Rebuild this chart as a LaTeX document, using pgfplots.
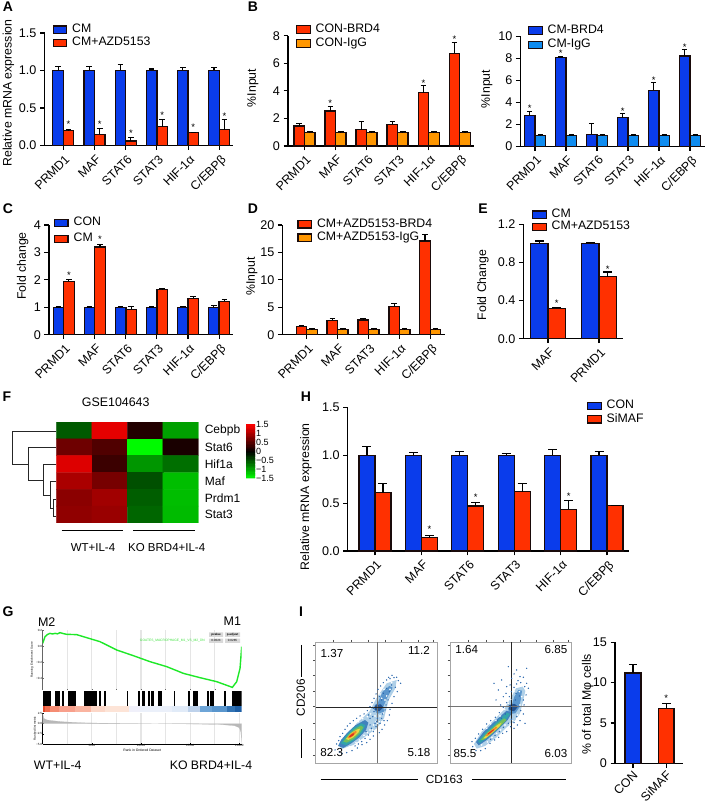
\documentclass[border=0pt]{standalone}
\usepackage{fontspec}
\setmainfont{Liberation Sans}
\usepackage{pgfplots}
\pgfplotsset{compat=1.18}
\definecolor{cblue}{RGB}{10,60,235}
\definecolor{cred}{RGB}{255,48,0}
\definecolor{corange}{RGB}{255,150,0}
\definecolor{clight}{RGB}{15,140,240}
\definecolor{edge}{RGB}{25,10,10}
\newcommand\fs[1]{\fontsize{#1pt}{#1pt}\selectfont}
\pgfplotsset{
 /pgf/number format/assume math mode=true,
 geom/.style n args={4}{scale only axis, anchor=south west, at={({#1*1pt},{(804-#2)*1pt})}, width=#3pt, height=#4pt},
 pan/.style={axis x line*=bottom, axis y line*=left, axis line style={line width=1.1pt},
   tick style={line width=1.1pt,black}, major tick length=4.5pt, tick align=outside,
   ticklabel style={font=\fs{12.6}}, clip=false, ymin=0,
   x tick label style={xshift=1pt,yshift=-2.5pt,rotate=45, anchor=north east, inner sep=1pt, font=\fs{12.3}},
   xtick={0,1,2,3,4,5}, xticklabels={PRMD1,MAF,STAT6,STAT3,HIF-1α,C/EBPβ}},
 yl/.style 2 args={every axis y label/.style={at={(axis description cs:0,.5)},xshift=#1pt,yshift=#2pt,rotate=90,anchor=center,font=\fs{12.3}}},
 lg/.style n args={3}{legend style={at={(0,1)},anchor=north west,xshift=#1pt,yshift=#2pt,draw=none,fill=none,inner sep=0pt,outer sep=0pt,row sep={#3pt},cells={anchor=west},
    nodes={inner sep=0pt,font=\fs{12.3},text height=9pt,text depth=3pt},/tikz/column 1/.style={column sep=5pt}}},
 bar/.style n args={3}{ybar, fill=#1, draw=edge, line width=1.35pt, bar width=#2, bar shift=#3,
    legend image code/.code={\draw[##1,line width=1.2pt] (0pt,-3.7pt) rectangle (13.5pt,3.7pt);},
    error bars/y dir=plus, error bars/y explicit, error bars/error bar style={line width=1.1pt,black,xshift=#3},
    error bars/error mark options={rotate=90,mark size=2.8pt,line width=1.1pt,black}},
 cap/.style={error bars/error mark options={rotate=90,mark size=#1,line width=1.1pt,black}},
 stars/.style={only marks, mark=none, forget plot, nodes near coords={*}, nodes near coords style={anchor=center,inner sep=0pt,font=\fs{9.5},xshift=#1,yshift=-.8pt}},
}
\newcommand\band[3]{\addplot[fill={rgb,255:#3},draw=none] coordinates {(#1,0)(#2,0)(#2,1)(#1,1)} -- cycle;}
\begin{document}
\begin{tikzpicture}
\path[use as bounding box] (0,0) rectangle (708pt,804pt);

% A
\begin{axis}[geom={44.5}{145.5}{188.5}{112.5},pan,xmin=-.603,xmax=5.44,ymax=1.5,ytick={0,.5,1,1.5},yticklabels={0.0,0.5,1.0,1.5},
  ylabel={Relative mRNA expression},yl={-36}{-3.75},lg={8}{9.3}{1.3}]
\addplot[bar={cblue}{10.5pt}{-5.25pt}] coordinates {(0,1)+-(0,.05)(1,1)+-(0,.05)(2,1)+-(0,.085)(3,1)+-(0,.02)(4,1)+-(0,.035)(5,1)+-(0,.035)};
\addlegendentry{CM}
\addplot[bar={cred}{10.5pt}{5.25pt}] coordinates {(0,.2)+-(0,.01)(1,.15)+-(0,.08)(2,.06)+-(0,.05)(3,.25)+-(0,.1)(4,.17)+-(0,.005)(5,.21)+-(0,.14)};
\addlegendentry{CM+AZD5153}
\addplot[stars=5.25pt] coordinates {(0,.30)(1,.30)(2,.17)(3,.41)(4,.26)(5,.40)};
\end{axis}

% B left
\begin{axis}[geom={288}{146}{186}{110.3},pan,xmin=-.532,xmax=5.46,ymax=8,ytick={0,2,4,6,8},
  ylabel={\%Input},yl={-35}{2.85},lg={8}{12.2}{2}]
\addplot[bar={cred}{10.5pt}{-5.25pt}] coordinates {(0,1.45)+-(0,.2)(1,2.55)+-(0,.3)(2,1.18)+-(0,.58)(3,1.57)+-(0,.19)(4,3.86)+-(0,.56)(5,6.72)+-(0,.78)};
\addlegendentry{CON-BRD4}
\addplot[bar={corange}{10.5pt}{5.25pt}] coordinates {(0,1)+-(0,.05)(1,1)+-(0,.05)(2,1)+-(0,.05)(3,1)+-(0,.03)(4,1)+-(0,.03)(5,1)+-(0,.03)};
\addlegendentry{CON-IgG}
\addplot[stars=-5.25pt] coordinates {(1,3.16)(4,4.6)(5,7.78)};
\end{axis}

% B right
\begin{axis}[geom={520.3}{146.3}{184.7}{110},pan,xmin=-.474,xmax=5.484,ymax=10,ytick={0,2,4,6,8,10},
  ylabel={\%Input},yl={-33.3}{2.3},lg={7.7}{11.8}{2.4}]
\addplot[bar={cblue}{10.7pt}{-5.35pt}] coordinates {(0,2.8)+-(0,.35)(1,8.05)+-(0,.07)(2,1.1)+-(0,.96)(3,2.6)+-(0,.4)(4,5.1)+-(0,.69)(5,8.2)+-(0,.56)};
\addlegendentry{CM-BRD4}
\addplot[bar={clight}{10.7pt}{5.35pt}] coordinates {(0,1)+-(0,.05)(1,1)+-(0,.03)(2,1)+-(0,.05)(3,1)+-(0,.03)(4,1)+-(0,.03)(5,1)+-(0,.03)};
\addlegendentry{CM-IgG}
\addplot[stars=-5.35pt] coordinates {(0,3.55)(1,8.5)(3,3.25)(4,6.1)(5,9.1)};
\end{axis}

% C
\begin{axis}[geom={49}{334.7}{184.3}{109.7},pan,xmin=-.473,xmax=5.458,ymax=4,ytick={0,1,2,3,4},
  ylabel={Fold change},yl={-26.3}{13.85},lg={5}{8}{4}]
\addplot[bar={cblue}{10.5pt}{-5.25pt}] coordinates {(0,1)+-(0,.01)(1,1)+-(0,.01)(2,1)+-(0,.04)(3,1)+-(0,.01)(4,1)+-(0,.04)(5,1)+-(0,.08)};
\addlegendentry{CON}
\addplot[bar={cred}{10.5pt}{5.25pt}] coordinates {(0,1.95)+-(0,.05)(1,3.2)+-(0,.1)(2,.92)+-(0,.1)(3,1.65)+-(0,.03)(4,1.33)+-(0,.07)(5,1.22)+-(0,.05)};
\addlegendentry{CM}
\addplot[stars=5.25pt] coordinates {(0,2.2)(1,3.5)};
\end{axis}

% D
\begin{axis}[geom={282.3}{334.7}{162.7}{109.7},pan,xmin=-.79,xmax=4.476,ymax=20,ytick={0,5,10,15,20},
  xtick={0,1,2,3,4},xticklabels={PRMD1,MAF,STAT3,HIF-1α,C/EBPβ},
  ylabel={\%Input},yl={-30.3}{3.15},lg={15}{6.7}{1.4}]
\addplot[bar={cred}{10.5pt}{-5.25pt}] coordinates {(0,1.5)+-(0,.2)(1,2.6)+-(0,.3)(2,2.7)+-(0,.3)(3,5.2)+-(0,.5)(4,17.1)+-(0,1.2)};
\addlegendentry{CM+AZD5153-BRD4}
\addplot[bar={corange}{10.5pt}{5.25pt}] coordinates {(0,1)+-(0,.05)(1,1)+-(0,.05)(2,1)+-(0,.05)(3,1)+-(0,.05)(4,1)+-(0,.05)};
\addlegendentry{CM+AZD5153-IgG}
\end{axis}

% E
\begin{axis}[geom={523.3}{338.7}{99.4}{114.4},pan,xmin=-.484,xmax=1.465,ymax=1.2,ytick={0,.4,.8,1.2},yticklabels={0.0,0.4,0.8,1.2},
  xtick={0,1},xticklabels={MAF,PRMD1},
  ylabel={Fold Change},yl={-40.3}{-3.5},lg={8.7}{15.6}{.3}]
\addplot[bar={cblue}{17.3pt}{-8.65pt},cap=4.5pt] coordinates {(0,1)+-(0,.025)(1,1)+-(0,.01)};
\addlegendentry{CM}
\addplot[bar={cred}{17.3pt}{8.65pt},cap=4.5pt] coordinates {(0,.32)+-(0,.01)(1,.65)+-(0,.05)};
\addlegendentry{CM+AZD5153}
\addplot[stars=8.65pt] coordinates {(0,.38)(1,.735)};
\end{axis}

% H
\begin{axis}[geom={347.7}{551}{281.3}{143.7},pan,xmin=-.588,xmax=5.474,ymax=1.5,ytick={0,.5,1,1.5},yticklabels={0.0,0.5,1.0,1.5},
  ylabel={Relative mRNA expression},yl={-41.7}{-17.5},lg={239.3}{7.3}{1.3}]
\addplot[bar={cblue}{16pt}{-8pt},cap=4.5pt] coordinates {(0,1)+-(0,.09)(1,1)+-(0,.03)(2,1)+-(0,.04)(3,1)+-(0,.02)(4,1)+-(0,.06)(5,1)+-(0,.04)};
\addlegendentry{CON}
\addplot[bar={cred}{16pt}{8pt},cap=4.5pt] coordinates {(0,.61)+-(0,.09)(1,.14)+-(0,.025)(2,.47)+-(0,.035)(3,.62)+-(0,.08)(4,.435)+-(0,.09)(5,.475)+-(0,.002)};
\addlegendentry{SiMAF}
\addplot[stars=8pt] coordinates {(1,.235)(2,.565)(4,.58)};
\end{axis}

% I bars
\begin{axis}[geom={615}{763.3}{67.7}{121},pan,xmin=-.54,xmax=1.492,ymax=15,ytick={0,5,10,15},
  xtick={0,1},xticklabels={CON,SiMAF},x tick label style={yshift=2.5pt},
  ylabel={\% of total Mφ cells},yl={-27.3}{-1.7}]
\addplot[bar={cblue}{15.7pt}{0pt},cap=4.2pt] coordinates {(0,11.2)+-(0,1)};
\addplot[bar={cred}{15.7pt}{0pt},cap=4.2pt] coordinates {(1,6.8)+-(0,.62)};
\addplot[stars=0pt] coordinates {(1,8.2)};
\end{axis}

% F heatmap
\begin{axis}[geom={56.3}{523}{142}{101},xmin=-.5,xmax=3.5,ymin=-.5,ymax=5.5,y dir=reverse,
  axis line style={draw=none},tick style={draw=none},xtick=\empty,ytick={0,1,2,3,4,5},
  yticklabels={Cebpb,Stat6,Hif1a,Maf,Prdm1,Stat3},yticklabel pos=right,
  y tick label style={font=\fs{12},xshift=3pt},
  colormap={gbr}{rgb255(0cm)=(0,255,0); rgb255(1cm)=(0,0,0); rgb255(2cm)=(255,0,0)},
  point meta min=-1.5,point meta max=1.5,colorbar sampled,
  colorbar style={samples=41,at={(1.334,.98)},anchor=north west,scale only axis,width=9.3pt,height=54.3pt,
    ytick={-1.5,-1,-.5,0,.5,1,1.5},yticklabels={−1.5,−1,−0.5,0,0.5,1,1.5},
    axis line style={draw=none},tick style={draw=none},y tick label style={font=\fs{9},inner sep=1pt}}]
\addplot[matrix plot*,mesh/cols=4,point meta=explicit] table[meta=z] {
x y z
0 0 -.53
1 0 1.35
2 0 .2
3 0 -.94
0 1 .65
1 1 .47
2 1 -1.47
3 1 .15
0 2 1.3
1 2 .35
2 2 -.88
3 2 -.65
0 3 1.0
1 3 .7
2 3 -.47
3 3 -1.12
0 4 .82
1 4 .95
2 4 -.55
3 4 -1.12
0 5 .85
1 5 .9
2 5 -.6
3 5 -1.1
};
\end{axis}

% G top
\begin{axis}[geom={42.7}{690}{199}{60},xmin=0,xmax=20238,ymin=-.55,ymax=.2,scaled x ticks=false,
  axis x line*=bottom,axis y line*=left,x axis line style={draw=none},y axis line style={line width=.5pt,black!60},
  xtick={2500,5000,7500,10000,12500,15000,17500},xticklabels={},xmajorgrids,major grid style={line width=1.1pt,black!10},
  major tick length=1pt,tick style={line width=.3pt,black!60},
  ytick={-.4,-.2,0,.2},yticklabels={−0.4,−0.2,0.0,0.2},y tick label style={font=\fs{3},inner sep=.5pt},
  ylabel={Running Enrichment Score},every axis y label/.style={at={(axis description cs:0,.5)},xshift=-10.5pt,rotate=90,anchor=center,font=\fs{3}}]
\addplot[line width=1.4pt,color={rgb,255:red,30;green,232;blue,40}] coordinates {(0,.033)(237,.117)(500,.145)(746,.158)(1000,.15)(1254,.158)(1500,.152)(1763,.167)(2100,.155)(2441,.146)(3458,.142)(4475,.104)(5831,.054)(7526,-.05)(9221,-.121)(10916,-.196)(12611,-.258)(14306,-.342)(16001,-.396)(17696,-.446)(19289,-.517)(19730,-.446)(20069,-.279)(20238,-.008)};
\end{axis}

% G rug
\begin{axis}[geom={42.7}{705.7}{199}{15},hide axis,xmin=52,xmax=650,ymin=0,ymax=1]
\addplot[ycomb,line width=.75pt,black,mark=none] coordinates {(53,1)(55,1)(57,1)(60,1)(62,1)(65,1)(67,1)(70,1)(72,1)(75,1)(76,1)(91,1)(93,1)(95,1)(97,1)(99,1)(101,1)(111,1)(114,1)(128,1)(130,1)(132,1)(134,1)(136,1)(138,1)(140,1)(142,1)(144,1)(146,1)(148,1)(150,1)(176,1)(178,1)(180,1)(182,1)(184,1)(186,1)(188,1)(190,1)(192,1)(194,1)(196,1)(199,1)(201,1)(203,1)(205,1)(207,1)(209,1)(211,1)(214,1)(223,1)(225,1)(237,1)(239,1)(307,1)(341,1)(343,1)(351,1)(354,1)(357,1)(371,1)(374,1)(379,1)(382,1)(385,1)(401,1)(403,1)(406,1)(409,1)(447,1)(491,1)(494,1)(506,1)(509,1)(512,1)(515,1)(518,1)(546,1)(549,1)(556,1)(559,1)(562,1)(565,1)(598,1)(601,1)(623,1)(625,1)(627,1)(629,1)(631,1)(633,1)(635,1)(637,1)(639,1)(641,1)(643,1)(645,1)(647,1)(649,1)};
\end{axis}

% G colour strip
\begin{axis}[geom={42.7}{711.7}{199}{6},hide axis,xmin=52,xmax=650,ymin=0,ymax=1]
\band{52}{60}{red,226;green,70;blue,40}
\band{60}{75}{red,240;green,110;blue,80}
\band{75}{100}{red,245;green,140;blue,115}
\band{100}{150}{red,248;green,160;blue,140}
\band{150}{198}{red,250;green,180;blue,160}
\band{198}{240}{red,252;green,215;blue,200}
\band{240}{310}{red,253;green,228;blue,215}
\band{310}{345}{red,240;green,240;blue,250}
\band{345}{440}{red,235;green,240;blue,250}
\band{440}{490}{red,225;green,235;blue,248}
\band{490}{525}{red,190;green,210;blue,235}
\band{525}{560}{red,110;green,165;blue,215}
\band{560}{605}{red,90;green,150;blue,205}
\band{605}{630}{red,50;green,115;blue,180}
\band{630}{650}{red,30;green,95;blue,165}
\end{axis}

% G bottom
\begin{axis}[geom={42.7}{744}{199}{31},xmin=0,xmax=20238,ymin=-5,ymax=2.6,scaled x ticks=false,
  axis x line*=bottom,axis y line*=left,axis line style={line width=.9pt},
  extra x ticks={2500,7500,12500,17500},extra x tick labels={},extra x tick style={major tick length=0pt,grid=major},
  xtick={5000,10000,15000,20000},xticklabels={5000,10000,15000,20000},xmajorgrids,major grid style={line width=1.1pt,black!10},
  major tick length=1.2pt,tick style={line width=.3pt,black},
  ytick={-5,-2.5,0,2.5},yticklabels={−5.0,−2.5,0.0,2.5},
  ticklabel style={font=\fs{3},inner sep=.5pt},
  xlabel={Rank in Ordered Dataset},every axis x label/.style={at={(axis description cs:.5,0)},yshift=-6.5pt,anchor=center,font=\fs{3.4}},
  ylabel={Ranked list metric},every axis y label/.style={at={(axis description cs:0,.5)},xshift=-8pt,rotate=90,anchor=center,font=\fs{3}}]
\addplot[fill=black!28,draw=black!28,line width=.2pt] coordinates {(0,2.4)(100,1.3)(400,.9)(1000,.7)(2000,.45)(4000,.2)(6000,.1)(10000,.02)(14000,-.05)(18000,-.2)(19500,-.5)(20000,-1.0)(20150,-2)(20220,-4)(20238,-5)(20238,0)(0,0)} -- cycle;
\end{axis}

% I flow left
\begin{axis}[geom={315.7}{763.3}{121.3}{121},xmin=77,xmax=441,ymin=157,ymax=520,y dir=reverse,clip=true,
  axis line style={line width=.9pt,black!35},xtick pos=upper,ytick pos=left,tick align=outside,
  xtick={130,185,235,285,335,385,430},ytick={165,210,255,305,350,400,447,495},xticklabels={},yticklabels={},
  minor x tick num=3,minor y tick num=3,major tick length=2.5pt,minor tick length=1.3pt,tick style={line width=.5pt,black!70}]
\addplot[fill={rgb,255:red,175;green,208;blue,232},draw=none] coordinates {(150,465)(200,400)(238,365)(262,320)(290,280)(320,270)(316,295)(296,330)(282,385)(260,415)(232,435)(190,465)(152,478)} -- cycle;
\addplot[fill={rgb,255:red,90;green,150;blue,205},draw=none] coordinates {(278,305)(298,288)(308,293)(292,322)(280,350)(282,365)(262,372)(250,355)(265,335)} -- cycle;
\addplot[fill={rgb,255:red,65;green,130;blue,190},draw=none] coordinates {(144,468)(153,450)(172,428)(196,406)(225,390)(235,398)(228,420)(208,442)(184,460)(160,474)} -- cycle;
\addplot[fill={rgb,255:red,50;green,165;blue,170},draw=none] coordinates {(152,460)(167,438)(190,414)(214,400)(226,406)(216,428)(194,450)(168,466)} -- cycle;
\addplot[fill={rgb,255:red,115;green,190;blue,90},draw=none] coordinates {(160,455)(175,435)(195,417)(213,407)(220,412)(208,431)(190,448)(170,458)} -- cycle;
\addplot[fill={rgb,255:red,232;green,216;blue,68},draw=none] coordinates {(168,447)(182,430)(200,419)(210,416)(206,427)(190,442)(175,450)} -- cycle;
\addplot[fill={rgb,255:red,240;green,140;blue,40},draw=none] coordinates {(172,443)(185,430)(198,422)(200,427)(188,439)(177,445)} -- cycle;
\addplot[fill={rgb,255:red,220;green,50;blue,30},draw=none] coordinates {(177,439)(187,431)(193,430)(190,436)(180,442)} -- cycle;
\addplot[fill={rgb,255:red,35;green,80;blue,140},draw=none] coordinates {(254,347)(272,343)(280,352)(268,364)(255,360)} -- cycle;
\addplot[only marks,mark=*,mark size=.55pt,white,draw=none] coordinates {(240,420)(250,405)(258,395)(270,378)(275,395)(248,420)(262,400)(285,330)(290,318)(270,312)(282,298)(300,298)(305,278)(242,372)(232,380)(218,386)(205,395)(195,400)(182,410)(172,420)(160,437)(232,428)(222,436)(208,450)(198,458)(178,470)(268,395)(280,370)(255,378)(275,325)};
\addplot[only marks,mark=*,mark size=.45pt,color={rgb,255:red,45;green,105;blue,175}] coordinates {(135,480)(140,462)(146,452)(150,440)(158,430)(165,418)(172,408)(180,400)(190,392)(200,385)(210,378)(222,372)(232,362)(240,350)(246,338)(252,325)(258,312)(264,298)(272,288)(280,278)(290,270)(300,266)(312,263)(325,272)(332,280)(320,262)(306,256)(296,262)(316,292)(322,305)(312,320)(306,340)(300,358)(298,375)(292,392)(284,405)(276,418)(268,428)(258,410)(250,438)(240,448)(230,458)(216,464)(202,474)(186,482)(170,488)(156,490)(148,486)(260,395)(270,400)(248,380)(252,365)(240,385)(236,375)(278,372)(285,360)(268,345)(275,330)(258,345)(250,355)(280,310)(290,295)(298,305)(305,285)(268,320)(262,385)(255,400)(244,415)(250,425)(235,435)(225,445)(215,455)(205,462)(195,468)(275,385)(282,392)(288,345)(294,330)(240,405)(228,425)};
\addplot[line width=1pt,black!55] coordinates {(261,157)(261,520)};
\addplot[line width=1pt,black!85] coordinates {(77,352)(441,352)};
\end{axis}

% I flow right
\begin{axis}[geom={450}{763.3}{121.7}{121},xmin=480,xmax=845,ymin=157,ymax=520,y dir=reverse,clip=true,
  axis line style={line width=.9pt,black!35},xtick pos=upper,ytick pos=left,tick align=outside,
  xtick={535,590,640,690,740,790,835},ytick={165,210,255,305,350,400,447,495},xticklabels={},yticklabels={},
  minor x tick num=3,minor y tick num=3,major tick length=2.5pt,minor tick length=1.3pt,tick style={line width=.5pt,black!70}]
\addplot[fill={rgb,255:red,175;green,208;blue,232},draw=none] coordinates {(552,462)(575,425)(610,392)(640,362)(660,328)(678,295)(698,290)(706,303)(700,330)(690,370)(675,392)(650,412)(620,442)(585,468)(560,476)} -- cycle;
\addplot[fill={rgb,255:red,90;green,150;blue,205},draw=none] coordinates {(672,322)(685,300)(696,302)(692,330)(686,355)(676,370)(658,372)(654,355)(667,340)} -- cycle;
\addplot[fill={rgb,255:red,65;green,130;blue,190},draw=none] coordinates {(558,456)(580,427)(610,398)(650,362)(666,368)(653,390)(620,423)(590,450)(566,466)} -- cycle;
\addplot[fill={rgb,255:red,50;green,165;blue,170},draw=none] coordinates {(564,454)(585,429)(615,401)(650,368)(660,372)(648,389)(618,420)(588,446)(570,459)} -- cycle;
\addplot[fill={rgb,255:red,115;green,190;blue,90},draw=none] coordinates {(572,450)(592,428)(620,403)(642,385)(650,390)(630,410)(600,436)(580,450)} -- cycle;
\addplot[fill={rgb,255:red,232;green,216;blue,68},draw=none] coordinates {(580,445)(598,426)(622,405)(635,398)(628,410)(605,430)(587,445)} -- cycle;
\addplot[fill={rgb,255:red,240;green,140;blue,40},draw=none] coordinates {(585,438)(600,424)(618,410)(622,413)(605,428)(592,438)} -- cycle;
\addplot[fill={rgb,255:red,220;green,50;blue,30},draw=none] coordinates {(592,432)(602,424)(610,418)(612,420)(602,428)(595,433)} -- cycle;
\addplot[fill={rgb,255:red,35;green,80;blue,140},draw=none] coordinates {(656,345)(674,342)(684,350)(672,364)(658,360)} -- cycle;
\addplot[only marks,mark=*,mark size=.55pt,white,draw=none] coordinates {(680,385)(668,392)(660,402)(645,405)(632,420)(620,430)(606,442)(592,456)(575,465)(590,415)(602,402)(618,392)(630,378)(644,358)(655,340)(662,328)(672,305)(690,345)(695,320)(688,305)(683,375)};
\addplot[only marks,mark=*,mark size=.45pt,color={rgb,255:red,45;green,105;blue,175}] coordinates {(655,230)(680,240)(710,235)(690,260)(665,265)(700,262)(612,280)(625,300)(640,320)(650,290)(635,270)(672,252)(684,272)(660,285)(648,310)(618,330)(632,345)(710,280)(715,295)(708,315)(702,345)(700,372)(690,392)(682,405)(672,398)(662,410)(650,425)(638,430)(626,442)(614,450)(600,460)(586,476)(572,482)(558,482)(548,470)(546,455)(556,445)(566,432)(578,418)(590,402)(602,392)(616,382)(628,368)(640,352)(650,338)(658,320)(664,305)(672,292)(680,282)(692,278)(704,290)(676,330)(662,350)(646,372)(634,385)(622,392)(680,380)(692,362)(700,330)(688,318)(678,310)(664,388)(655,400)(640,412)(628,425)(615,436)(602,448)(705,400)(672,415)(688,350)};
\addplot[line width=1pt,black!85] coordinates {(664,157)(664,520)};
\addplot[line width=1pt,black!55] coordinates {(480,350)(845,350)};
\end{axis}

% annotations in pixel coordinates
\begin{scope}[x=1pt,y=-1pt,yshift=804pt]
\foreach \l/\x/\y in {A/8/7,B/253/7,C/8/209,D/253/209,E/483/209,F/7/397,H/306/397,G/8/612,I/301/612}
  \node[font=\fs{14}\bfseries,inner sep=0pt] at (\x,\y) {\l};
% F
\node[font=\fs{12.4},inner sep=0pt] at (115.7,402.7) {GSE104643};
\draw[line width=1pt] (61.7,531) -- (123.3,531) (133.3,531) -- (195,531);
\node[font=\fs{11.5},inner sep=0pt] at (93,547.5) {WT+IL-4};
\node[font=\fs{11.5},inner sep=0pt] at (166.7,547.5) {KO BRD4+IL-4};
% G
\node[font=\fs{12.5},inner sep=0pt] at (46.7,621.7) {M2};
\node[font=\fs{12.5},inner sep=0pt] at (232.3,621.7) {M1};
\node[font=\fs{12.3},inner sep=0pt] at (57.7,765.7) {WT+IL-4};
\node[font=\fs{12.3},inner sep=0pt] at (211,765.7) {KO BRD4+IL-4};
\fill[black!15] (209,632.3) rectangle (223,637) (225,632.3) rectangle (240,637) (209,638.7) rectangle (223,643) (225,638.7) rectangle (240,643);
\node[font=\fs{3}\bfseries,inner sep=0pt] at (216,634.7) {pvalue};
\node[font=\fs{3}\bfseries,inner sep=0pt] at (232.5,634.7) {p.adjust};
\node[font=\fs{3},inner sep=0pt] at (216,640.8) {0.0023};
\node[font=\fs{3},inner sep=0pt] at (232.5,640.8) {0.0285};
\node[font=\fs{3.3},inner sep=0pt,text={rgb,255:red,60;green,225;blue,60},anchor=east] at (205,640.8) {GOATES\_MACROPHAGE\_M1\_VS\_M2\_DN};
% I
\node[font=\fs{11.6},inner sep=0pt] at (332,654) {1.37};
\node[font=\fs{11.6},inner sep=0pt] at (419,650) {11.2};
\node[font=\fs{11.6},inner sep=0pt] at (331.7,752.7) {82.3};
\node[font=\fs{11.6},inner sep=0pt] at (419,752.3) {5.18};
\node[font=\fs{11.6},inner sep=0pt] at (466.7,650) {1.64};
\node[font=\fs{11.6},inner sep=0pt] at (556,650) {6.85};
\node[font=\fs{11.6},inner sep=0pt] at (465,753.3) {85.5};
\node[font=\fs{11.6},inner sep=0pt] at (556,753.3) {6.03};
\node[font=\fs{11.8},inner sep=0pt,rotate=90] at (300.7,697.7) {CD206};
\draw[line width=1pt] (301,645) -- (301,677.3) (301,729.3) -- (301,758.3);
\node[font=\fs{11.8},inner sep=0pt] at (444.3,779.3) {CD163};
\draw[line width=1pt] (320.7,779.7) -- (417.7,779.7) (472.3,779.7) -- (565.7,779.7);
\end{scope}
% F dendrogram (drawn in 3x crop coordinates)
\begin{scope}[x=.3333pt,y=-.3333pt,yshift=429pt]
\draw[line width=1pt,black!85] (168,170) -- (38,170) -- (38,268) -- (87,268)
 (168,218) -- (87,218) -- (87,316) -- (132,316)
 (168,268) -- (132,268) -- (132,362) -- (152,362)
 (168,320) -- (152,320) -- (152,400) -- (160,400)
 (168,375) -- (160,375) -- (160,425) -- (168,425);
\end{scope}
\end{tikzpicture}
\end{document}
